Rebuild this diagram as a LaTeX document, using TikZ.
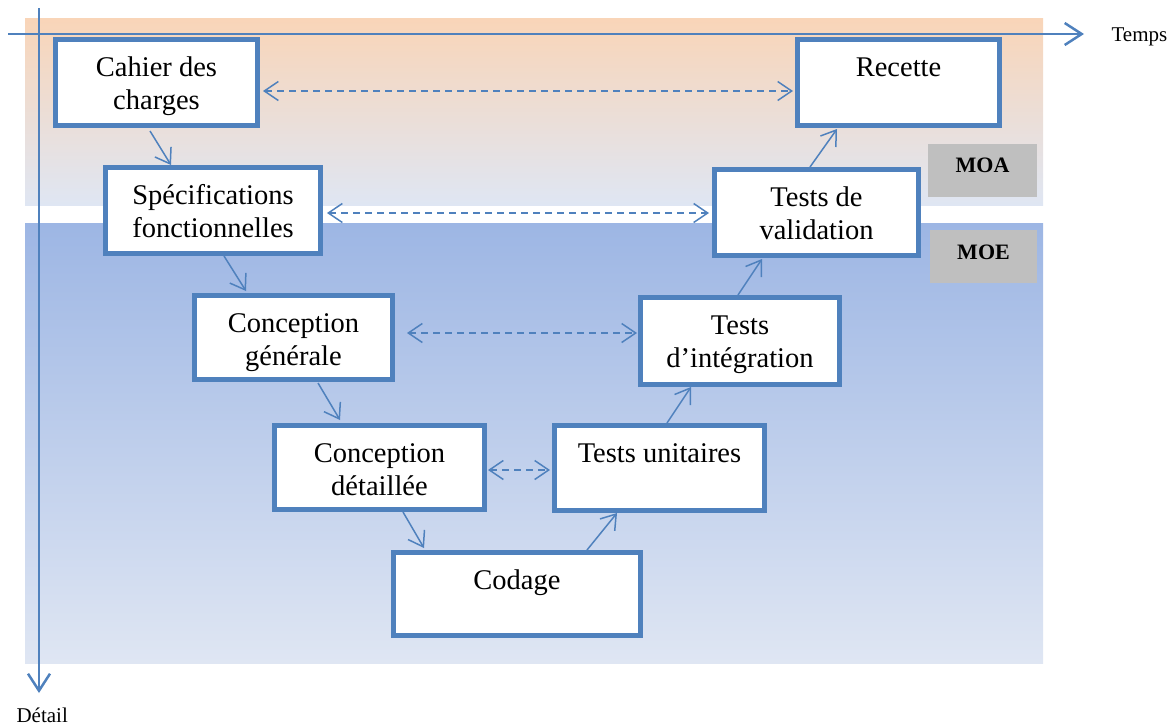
\documentclass[tikz,border=0pt]{standalone}
\usepackage{fontspec}
\setmainfont{Liberation Serif}
\usetikzlibrary{arrows.meta,calc}
\definecolor{vblue}{HTML}{4F81BD}
\definecolor{peach}{HTML}{F9D5B8}
\definecolor{paleblue}{HTML}{DFE6F3}
\definecolor{midblue}{HTML}{9DB6E4}
\definecolor{graybox}{HTML}{BFBFBF}
\newcommand{\boxlbl}[3]{\parbox[c][#1pt][t]{#2pt}{\centering\fontsize{28.5}{33}\selectfont\rule{0pt}{37pt}#3}}
\tikzset{
  stepbox/.style={draw=vblue, line width=5pt, fill=white, inner sep=0pt},
  flow/.style={vblue, line width=1.5pt, -{Straight Barb[length=14pt,width=19pt]}},
  link/.style={vblue, line width=1.5pt, dash pattern=on 7pt off 5pt,
    {Straight Barb[length=14pt,width=19pt]}-{Straight Barb[length=14pt,width=19pt]}},
  axisline/.style={vblue, line width=2.5pt, -{Straight Barb[length=17pt,width=22pt]}},
  tag/.style={fill=graybox, inner sep=0pt},
  tagtext/.style={anchor=base, font=\fontsize{22}{26}\selectfont\bfseries},
  axislbl/.style={anchor=base west, font=\fontsize{21}{25}\selectfont},
}
\begin{document}
\begin{tikzpicture}[x=1pt,y=-1pt]
\useasboundingbox (0,0) rectangle (1168,726);
% bands
\path[top color=peach, bottom color=paleblue] (25,18) rectangle (1043,205);
\path[top color=midblue, bottom color=paleblue] (25,223) rectangle (1043,663);
% MOA / MOE tags
\node[tag, minimum width=109pt, minimum height=53pt] (moa) at (982.5,170.5) {};
\node[tagtext] (moat) at (982.5,172) {MOA};
\node[tag, minimum width=107pt, minimum height=53pt] (moe) at (983.5,256.5) {};
\node[tagtext] (moet) at (983.5,259) {MOE};
% axes
\coordinate (h0) at (8,34);
\coordinate (h1) at (1084,34);
\coordinate (v0) at (39,8);
\coordinate (v1) at (39,693);
\draw[axisline] (h0) -- (h1);
\draw[axisline] (v0) -- (v1);
\node[axislbl] (temps) at (1108,41) {Temps};
\node[axislbl] (detail) at (13,722) {Détail};
% boxes
\node[stepbox] (cdc) at (156.5,82.5) {\boxlbl{86}{202}{Cahier des\\charges}};
\node[stepbox] (rec) at (898.5,82.5) {\boxlbl{86}{202}{Recette}};
\node[stepbox] (spec) at (213,210.5) {\boxlbl{86}{215}{Spécifications\\fonctionnelles}};
\node[stepbox] (tv) at (816.5,212.5) {\boxlbl{86}{204}{Tests de\\validation}};
\node[stepbox] (cg) at (293.5,337.5) {\boxlbl{84}{198}{Conception\\générale}};
\node[stepbox] (ti) at (740,341) {\boxlbl{87}{199}{Tests\\d’intégration}};
\node[stepbox] (cd) at (379.5,467.5) {\boxlbl{84}{210}{Conception\\détaillée}};
\node[stepbox] (tu) at (659.5,468) {\boxlbl{85}{210}{Tests unitaires}};
\node[stepbox] (cod) at (517,594) {\boxlbl{83}{247}{Codage}};
% solid flow arrows
\draw[flow] ($(cdc.south)+(-6.5,3)$) -- ($(spec.north)+(-42,0)$);
\draw[flow] ($(spec.south)+(11,0)$) -- ($(cg.north)+(-47.5,-2)$);
\draw[flow] ($(cg.south)+(24.5,1)$) -- ($(cd.north)+(-39.5,-3)$);
\draw[flow] ($(cd.south)+(23.5,0)$) -- ($(cod.north)+(-93,-2)$);
\draw[flow] ($(cod.north)+(70,0)$) -- ($(tu.south)+(-42.5,0)$);
\draw[flow] ($(tu.north)+(7.5,0)$) -- ($(ti.south)+(-49,0)$);
\draw[flow] ($(ti.north)+(-2,0)$) -- ($(tv.south)+(-54.5,1)$);
\draw[flow] ($(tv.north)+(-6.5,0)$) -- ($(rec.south)+(-61.5,1)$);
% dashed links
\draw[link] ($(cdc.east)+(3,8.5)$) -- ($(rec.west)+(-2,8.5)$);
\draw[link] ($(spec.east)+(4,2.5)$) -- ($(tv.west)+(-3,0.5)$);
\draw[link] ($(cg.east)+(12,-4.5)$) -- ($(ti.west)+(-1,-8)$);
\draw[link] ($(cd.east)+(1,2.5)$) -- ($(tu.west)+(-2,2)$);
\end{tikzpicture}
\end{document}
